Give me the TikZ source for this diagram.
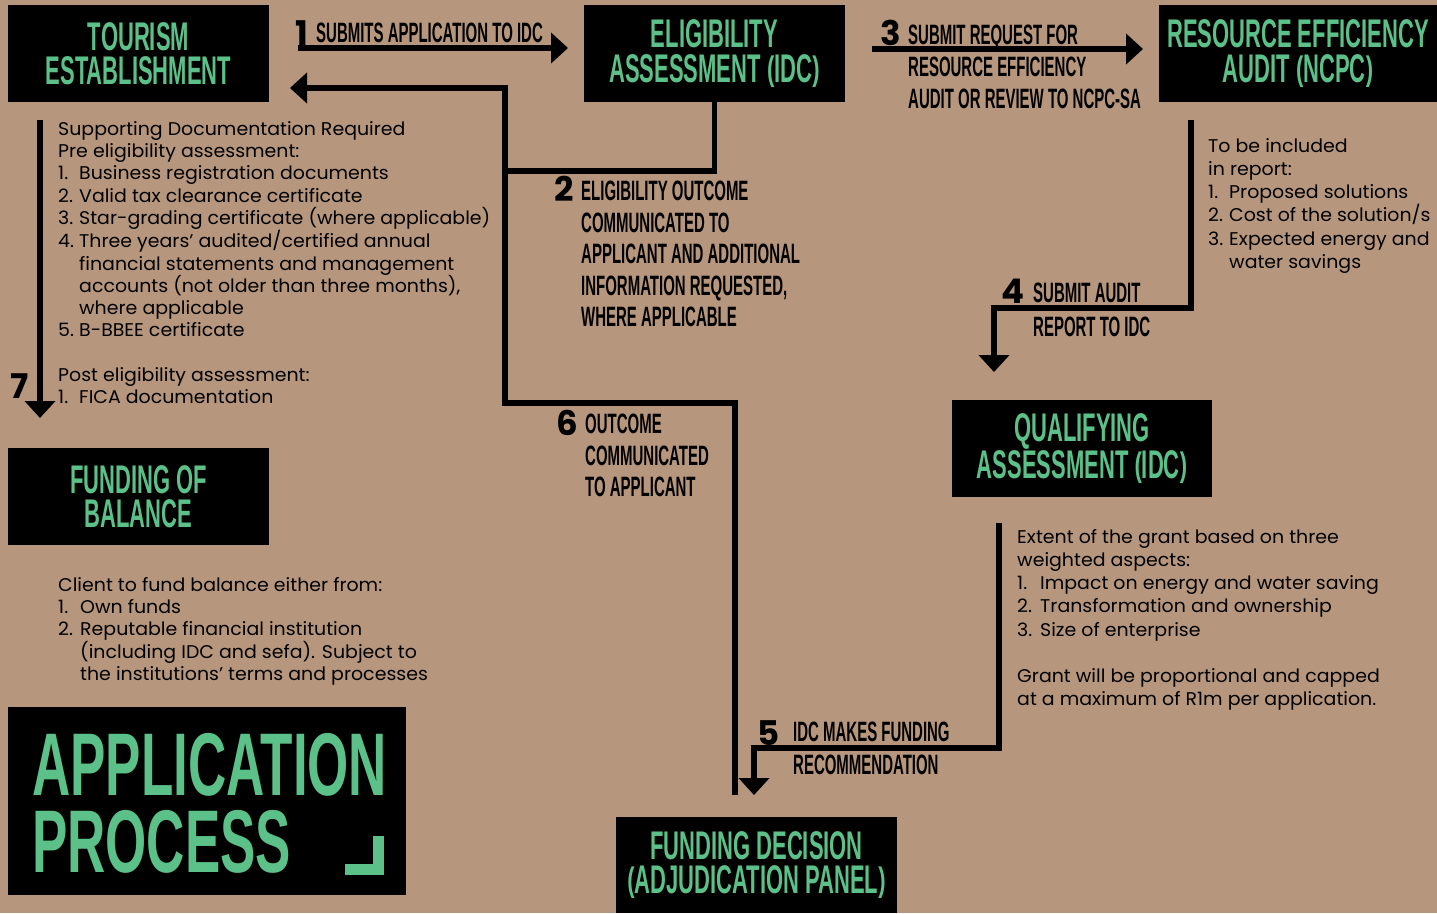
\documentclass[tikz,border=0pt]{standalone}
\usepackage{fontspec}
\usepackage{graphicx}
\setmainfont{Poppins}[FakeStretch=1.03]
\newfontfamily\bebas{Liberation Sans}[FakeStretch=0.55]
\newfontfamily\bebaslbl{Liberation Sans}[FakeStretch=0.535]
\newfontfamily\bebasbig{Liberation Sans}[FakeStretch=0.595]
\newfontfamily\numfont{Poppins}
\usetikzlibrary{arrows.meta}
\definecolor{kraft}{RGB}{182,150,124}
\definecolor{mint}{RGB}{92,192,137}
\newcommand\itm[1]{\makebox[21pt][l]{#1}}
\newcommand\hind{\hspace*{21pt}}
\newcommand\lpar{\raisebox{0.05em}{\scalebox{1}[0.85]{(}}}
\newcommand\rpar{\raisebox{0.05em}{\scalebox{1}[0.85]{)}}}
\begin{document}
\begin{tikzpicture}[x=1pt,y=-1pt,
  box/.style={fill=black, draw=none, text=mint, font=\bebas\bfseries\fontsize{40}{34.5}\selectfont, align=center, inner sep=0pt},
  lbl/.style={font=\bebaslbl\bfseries\fontsize{28}{31.5}\selectfont, align=left, inner sep=0pt, anchor=north west},
  num/.style={font=\numfont\bfseries\fontsize{34}{34}\selectfont, inner sep=0pt, anchor=base west},
  body/.style={font=\fontsize{18.4}{22.3}\selectfont, align=left, inner sep=0pt, anchor=north west},
  conn/.style={line width=5.5pt},
  arr/.style={conn, -{Triangle[length=17pt,width=30pt]}}]
\useasboundingbox (0,0) rectangle (1437,913);
\fill[kraft] (0,0) rectangle (1437,913);

% boxes
\node[box, minimum width=261pt, minimum height=97pt] (tour) at (138.5,53.5) {TOURISM\\ESTABLISHMENT};
\node[box, minimum width=261pt, minimum height=97pt] (elig) at (714.5,53.5) {ELIGIBILITY\\ASSESSMENT \lpar IDC\rpar};
\node[box, minimum width=278pt, minimum height=97pt] (rea) at (1298,53.5) {RESOURCE EFFICIENCY\\AUDIT \lpar NCPC\rpar};
\node[box, minimum width=260pt, minimum height=97pt] (qual) at (1082,448.5) {QUALIFYING\\ASSESSMENT \lpar IDC\rpar};
\node[box, minimum width=261pt, minimum height=97pt] (fob) at (138.5,496.5) {FUNDING OF\\BALANCE};
\node[box, minimum width=281pt, minimum height=96pt] (fdec) at (756.5,865) {FUNDING DECISION\\\lpar ADJUDICATION PANEL\rpar};
\node[fill=black, minimum width=398pt, minimum height=188pt, inner sep=0pt] (app) at (207,801) {};
\node[font=\bebasbig\bfseries\fontsize{89}{77}\selectfont, text=mint, align=left, anchor=north west, inner sep=0pt] (apptxt) at (32,733) {APPLICATION\\PROCESS};
\fill[mint] (373,836) rectangle (384,875);
\fill[mint] (345,864) rectangle (384,875);

% coordinates
\coordinate (a1s) at (298,48);
\coordinate (a1e) at (568,48);
\coordinate (j2) at (505,171);
\coordinate (s6) at (735,795);
\coordinate (k6) at (505,403);
\coordinate (a6e) at (290,88);
\coordinate (a3s) at (872,49);
\coordinate (a3e) at (1143,49);
\coordinate (s4) at (1191,120);
\coordinate (k4) at (994,308);
\coordinate (a4e) at (994,372);
\coordinate (s5) at (999,523);
\coordinate (k5) at (754,748);
\coordinate (a5e) at (754,795);
\coordinate (s7) at (40,120);
\coordinate (a7e) at (40,418);

% connectors
\draw[arr] (a1s) -- (a1e);
\draw[conn] (elig.south) |- (j2);
\draw[arr] (s6) |- (k6) |- (a6e);
\draw[arr] (a3s) -- (a3e);
\draw[arr] (s4) |- (k4) -- (a4e);
\draw[arr] (s5) |- (k5) -- (a5e);
\draw[arr] (s7) -- (a7e);

% step labels
\node[num] (n1) at (295,45) {1};
\node[lbl] (t1) at (316,23) {SUBMITS APPLICATION TO IDC};
\node[num] (n2) at (554,201) {2};
\node[lbl] (t2) at (581,181) {ELIGIBILITY OUTCOME\\COMMUNICATED TO\\APPLICANT AND ADDITIONAL\\INFORMATION REQUESTED,\\WHERE APPLICABLE};
\node[num] (n3) at (880,45) {3};
\node[lbl, font=\bebaslbl\bfseries\fontsize{28}{32}\selectfont] (t3) at (908,25) {SUBMIT REQUEST FOR\\RESOURCE EFFICIENCY\\AUDIT OR REVIEW TO NCPC-SA};
\node[num] (n4) at (1001,303) {4};
\node[lbl, font=\bebaslbl\bfseries\fontsize{28}{34}\selectfont] (t4) at (1033,283) {SUBMIT AUDIT\\REPORT TO IDC};
\node[num] (n5) at (757,745) {5};
\node[lbl, font=\bebaslbl\bfseries\fontsize{28}{33}\selectfont] (t5) at (793,722) {IDC MAKES FUNDING\\RECOMMENDATION};
\node[num] (n6) at (556,435) {6};
\node[lbl] (t6) at (585,414) {OUTCOME\\COMMUNICATED\\TO APPLICANT};
\node[num] (n7) at (10,398) {7};

% body texts
\node[body] (docs) at (58,121) {Supporting Documentation Required\\
Pre eligibility assessment:\\
\itm{1.}Business registration documents\\
\itm{2.}Valid tax clearance certificate\\
\itm{3.}Star-grading certificate (where applicable)\\
\itm{4.}Three years’ audited/certified annual\\
\hind financial statements and management\\
\hind accounts (not older than three months),\\
\hind where applicable\\
\itm{5.}B-BBEE certificate\\[22.3pt]
Post eligibility assessment:\\
\itm{1.}FICA documentation};

\node[body, font=\fontsize{18.4}{23.2}\selectfont] (report) at (1208,138) {To be included\\
in report:\\
\itm{1.}Proposed solutions\\
\itm{2.}Cost of the solution/s\\
\itm{3.}Expected energy and\\
\hind water savings};

\node[body, font=\fontsize{18.4}{23.2}\selectfont] (grant) at (1017,529) {Extent of the grant based on three\\
weighted aspects:\\
\makebox[23pt][l]{1.}Impact on energy and water saving\\
\makebox[23pt][l]{2.}Transformation and ownership\\
\makebox[23pt][l]{3.}Size of enterprise\\[23.2pt]
Grant will be proportional and capped\\
at a maximum of R1m per application.};

\node[body] (bal) at (58,577) {Client to fund balance either from:\\
\makebox[22pt][l]{1.}Own funds\\
\makebox[22pt][l]{2.}Reputable financial institution\\
\hspace*{22pt}(including IDC and sefa). Subject to\\
\hspace*{22pt}the institutions’ terms and processes};
\end{tikzpicture}
\end{document}
